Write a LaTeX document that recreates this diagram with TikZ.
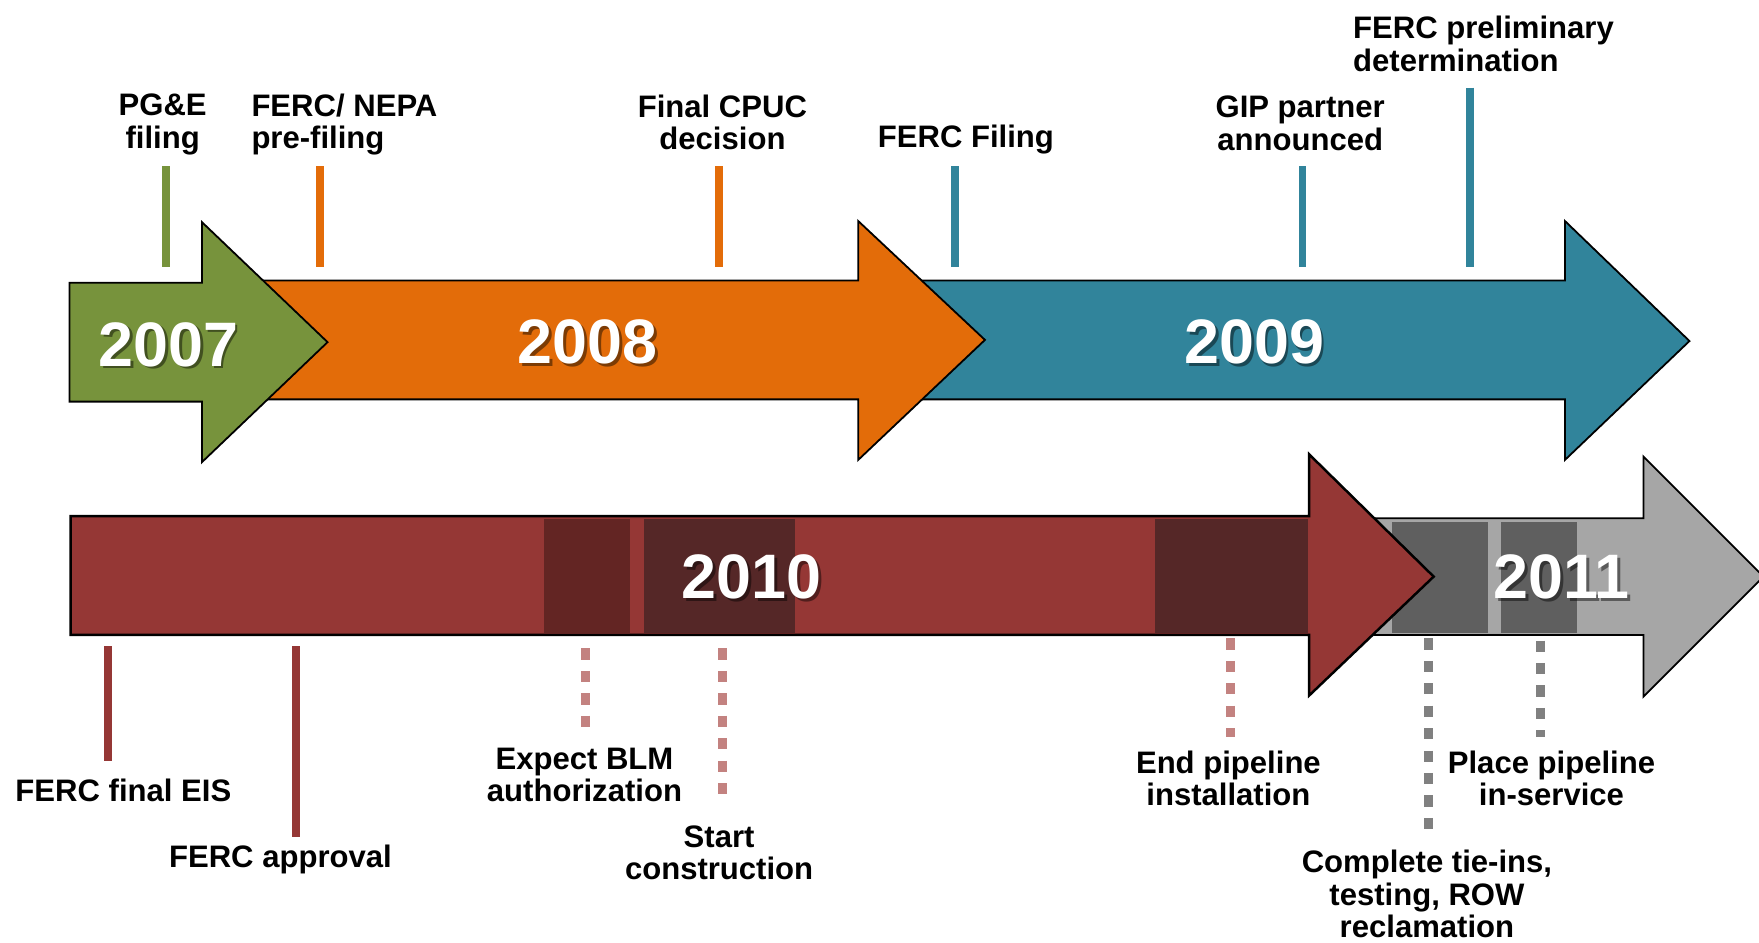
\documentclass[tikz,border=0pt]{standalone}
\usepackage{fontspec}
\setmainfont{Liberation Sans}
\definecolor{cgreen}{HTML}{77933C}
\definecolor{corange}{HTML}{E36C09}
\definecolor{cteal}{HTML}{31849B}
\definecolor{cred}{HTML}{953735}
\definecolor{cdred}{HTML}{632523}
\definecolor{cdred2}{HTML}{552727}
\definecolor{cgray}{HTML}{A6A6A6}
\definecolor{cdgray}{HTML}{5F5F5F}
\definecolor{cpink}{HTML}{C38280}
\definecolor{cmgray}{HTML}{808080}
\begin{document}
\begin{tikzpicture}[x=1pt,y=-1pt,
  arrowshape/.style={draw=black,line width=1.6pt,line join=miter},
  lbl/.style={inner sep=0pt,align=center,font=\fontsize{27.7}{29}\selectfont\bfseries},
  yearlbl/.style={inner sep=0pt,text=white,font=\fontsize{56}{60}\selectfont\bfseries},
  yearshadow/.style={inner sep=0pt,text=black,opacity=0.45,font=\fontsize{56}{60}\selectfont\bfseries},
  tick/.style={line width=7pt},
  dtick/.style={line width=8pt,dash pattern=on 10pt off 10pt}]
\useasboundingbox (0,0) rectangle (1568,840);
% top row arrows
\draw[arrowshape,fill=cteal] (820,250) -- (1395,250) -- (1395,197) -- (1506,304) -- (1395,410) -- (1395,356) -- (820,356) -- cycle;
\draw[arrowshape,fill=corange] (235,250) -- (765,250) -- (765,197) -- (878,303) -- (765,410) -- (765,356) -- (235,356) -- cycle;
\draw[arrowshape,fill=cgreen] (62,252) -- (180,252) -- (180,198) -- (292,305) -- (180,412) -- (180,358) -- (62,358) -- cycle;
% bottom row arrows
\draw[arrowshape,fill=cgray] (1225,462) -- (1465,462) -- (1465,407) -- (1572,514) -- (1465,621) -- (1465,566) -- (1225,566) -- cycle;
\fill[cdgray] (1241,465) rectangle (1326,564);
\fill[cdgray] (1338,465) rectangle (1406,564);
\draw[arrowshape,line width=2.2pt,fill=cred] (63,460) -- (1167,460) -- (1167,405) -- (1278,514) -- (1167,620) -- (1167,566) -- (63,566) -- cycle;
\fill[cdred] (485,463) rectangle (562,564);
\fill[cdred2] (574,463) rectangle (709,564);
\fill[cdred2] (1030,463) rectangle (1166,564);
% year labels
\node[yearshadow] at (152.5,309.5) {2007};
\node[yearlbl] (y2007) at (150,307) {2007};
\node[yearshadow] at (526.5,307.5) {2008};
\node[yearlbl] (y2008) at (524,305) {2008};
\node[yearshadow] at (1120.5,307.5) {2009};
\node[yearlbl] (y2009) at (1118,305) {2009};
\node[yearshadow] at (672.5,516.5) {2010};
\node[yearlbl] (y2010) at (670,514) {2010};
\node[yearshadow] at (1394.5,516.5) {2011};
\node[yearlbl] (y2011) at (1392,514) {2011};
% top labels
\node[lbl] (pge) at (145,111) {PG\&E\\filing};
\node[lbl,align=left,anchor=west] (nepa) at (224,111) {FERC/ NEPA\\pre-filing};
\node[lbl] (cpuc) at (644,109) {Final CPUC\\decision};
\node[lbl] (ffil) at (861,124) {FERC Filing};
\node[lbl] (gip) at (1159,110) {GIP partner\\announced};
\node[lbl,align=left,anchor=west] (prelim) at (1206,39) {FERC preliminary\\determination};
% top ticks
\coordinate (pgeA) at (148,148); \coordinate (pgeB) at (148,238);
\coordinate (nepaA) at (285,148); \coordinate (nepaB) at (285,238);
\coordinate (cpucA) at (641,148); \coordinate (cpucB) at (641,238);
\coordinate (ffilA) at (851,148); \coordinate (ffilB) at (851,238);
\coordinate (gipA) at (1161,148); \coordinate (gipB) at (1161,238);
\coordinate (prelimA) at (1310,78); \coordinate (prelimB) at (1310,238);
\draw[tick,cgreen] (pgeA) -- (pgeB);
\draw[tick,corange] (nepaA) -- (nepaB);
\draw[tick,corange] (cpucA) -- (cpucB);
\draw[tick,cteal] (ffilA) -- (ffilB);
\draw[tick,cteal] (gipA) -- (gipB);
\draw[tick,cteal] (prelimA) -- (prelimB);
% bottom labels
\node[lbl] (eis) at (110,705) {FERC final EIS};
\node[lbl] (appr) at (250,766) {FERC approval};
\node[lbl] (blm) at (521,691) {Expect BLM\\authorization};
\node[lbl] (start) at (641,760) {Start\\construction};
\node[lbl] (endp) at (1095,694) {End pipeline\\installation};
\node[lbl] (place) at (1383,694) {Place pipeline\\in-service};
\node[lbl] (tie) at (1272,797) {Complete tie-ins,\\testing, ROW\\reclamation};
% bottom ticks
\coordinate (eisA) at (96,576); \coordinate (eisB) at (96,678);
\coordinate (apprA) at (264,576); \coordinate (apprB) at (264,746);
\coordinate (blmA) at (522,578); \coordinate (blmB) at (522,654);
\coordinate (startA) at (644,578); \coordinate (startB) at (644,714);
\coordinate (endpA) at (1097,569); \coordinate (endpB) at (1097,657);
\coordinate (tieA) at (1273,569); \coordinate (tieB) at (1273,749);
\coordinate (placeA) at (1373,571); \coordinate (placeB) at (1373,657);
\draw[tick,cred] (eisA) -- (eisB);
\draw[tick,cred] (apprA) -- (apprB);
\draw[dtick,cpink] (blmA) -- (blmB);
\draw[dtick,cpink] (startA) -- (startB);
\draw[dtick,cpink] (endpA) -- (endpB);
\draw[dtick,cmgray] (tieA) -- (tieB);
\draw[dtick,cmgray] (placeA) -- (placeB);
\end{tikzpicture}
\end{document}
